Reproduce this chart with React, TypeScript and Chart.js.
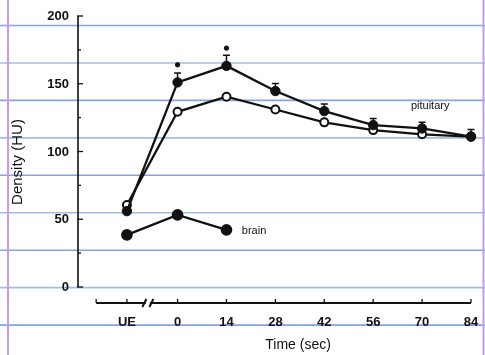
import React, { useEffect, useRef } from "react";
import { Chart, registerables } from "chart.js";

Chart.register(...registerables);

// ---- data ----
const xTickLabels = ["UE", "0", "14", "28", "42", "56", "70", "84"];
const xTickValues = [-14.5, 0, 14, 28, 42, 56, 70, 84];
const pituitaryFilled = [56, 151, 163.2, 144.6, 129.8, 119.5, 117, 111];
const pituitaryFilledUpper = [null, 158, 171, 150.2, 135, 124.4, 121.5, 116.3];
const pituitaryOpen = [60.5, 129.3, 140.4, 131, 121.5, 115.8, 112.7, 111];
const brainX = [-14.5, 0, 14];
const brainValues = [38.5, 53.2, 42.2];
const sigX = [0, 14];
const sigValues = [164, 176.3];
const yTickValues = [0, 50, 100, 150, 200];
const yMinorValues = [25, 75, 125, 175];
const seriesLabels = [
  { text: "pituitary", x: 66.8, y: 133.5 },
  { text: "brain", x: 18.4, y: 41 },
];
const xTitle = "Time (sec)";
const yTitle = "Density (HU)";

const FONT = "'Liberation Sans', Arial, Helvetica, sans-serif";
const INK = "#111111";

const pts = (xs: number[], ys: number[]) => xs.map((x, i) => ({ x, y: ys[i] }));

const paperPlugin = {
  id: "paper",
  beforeDraw(chart: any) {
    const ctx = chart.ctx;
    const W = chart.width;
    const H = chart.height;
    ctx.save();
    ctx.fillStyle = "#ffffff";
    ctx.fillRect(0, 0, W, H);
    // ruled notebook lines
    for (let k = 0; k < 9; k++) {
      const y = 25.5 + k * 37.45;
      ctx.strokeStyle = k % 2 === 0 ? "#85a3dc" : "#a3bde2";
      ctx.lineWidth = 1.6;
      ctx.beginPath();
      ctx.moveTo(0, y);
      ctx.lineTo(W, y);
      ctx.stroke();
    }
    ctx.strokeStyle = "#c49af2";
    ctx.lineWidth = 2;
    ctx.beginPath();
    ctx.moveTo(8, 0);
    ctx.lineTo(8, H);
    ctx.moveTo(483.5, 0);
    ctx.lineTo(483.5, H);
    ctx.stroke();
    ctx.restore();
  },
  beforeDatasetsDraw(chart: any) {
    const ctx = chart.ctx;
    const xs = chart.scales.x;
    const ys = chart.scales.y;
    ctx.save();
    ctx.strokeStyle = INK;
    ctx.fillStyle = INK;
    // y axis
    const yAxisX = xs.left;
    ctx.lineWidth = 1.6;
    ctx.beginPath();
    ctx.moveTo(yAxisX, ys.getPixelForValue(0));
    ctx.lineTo(yAxisX, ys.getPixelForValue(200));
    ctx.stroke();
    ctx.lineWidth = 1.3;
    yTickValues.forEach((v) => {
      const y = ys.getPixelForValue(v);
      ctx.beginPath();
      ctx.moveTo(yAxisX - 1, y);
      ctx.lineTo(yAxisX + 5, y);
      ctx.stroke();
    });
    yMinorValues.forEach((v) => {
      const y = ys.getPixelForValue(v);
      ctx.beginPath();
      ctx.moveTo(yAxisX, y);
      ctx.lineTo(yAxisX + 3, y);
      ctx.stroke();
    });
    ctx.font = `bold 13px ${FONT}`;
    ctx.textAlign = "right";
    ctx.textBaseline = "middle";
    yTickValues.forEach((v) => {
      ctx.fillText(String(v), yAxisX - 9, ys.getPixelForValue(v) + 0.5);
    });
    // x axis (separate, below plot)
    const axY = ys.getPixelForValue(0) + 16;
    const xStart = xs.getPixelForValue(-23.3);
    const xEnd = xs.getPixelForValue(84);
    ctx.lineWidth = 1.8;
    ctx.beginPath();
    ctx.moveTo(xStart, axY);
    ctx.lineTo(xEnd, axY);
    ctx.stroke();
    ctx.lineWidth = 1.3;
    [-23.3, ...xTickValues].forEach((v) => {
      const x = xs.getPixelForValue(v);
      ctx.beginPath();
      ctx.moveTo(x, axY);
      ctx.lineTo(x, axY - 4);
      ctx.stroke();
    });
    // axis break
    const bx = xs.getPixelForValue(-8.5);
    ctx.fillStyle = "#ffffff";
    ctx.fillRect(bx - 2, axY - 2, 4, 4);
    ctx.lineWidth = 2;
    ctx.beginPath();
    ctx.moveTo(bx - 5.5, axY + 4);
    ctx.lineTo(bx - 1.5, axY - 4);
    ctx.moveTo(bx + 1.5, axY + 4);
    ctx.lineTo(bx + 5.5, axY - 4);
    ctx.stroke();
    ctx.fillStyle = INK;
    ctx.font = `bold 13px ${FONT}`;
    ctx.textAlign = "center";
    ctx.textBaseline = "middle";
    xTickValues.forEach((v, i) => {
      ctx.fillText(xTickLabels[i], xs.getPixelForValue(v), axY + 19);
    });
    // titles
    ctx.font = `14px ${FONT}`;
    ctx.fillText(xTitle, xs.getPixelForValue(34.5), axY + 42);
    ctx.save();
    ctx.translate(18, 162);
    ctx.rotate(-Math.PI / 2);
    ctx.font = `15px ${FONT}`;
    ctx.fillText(yTitle, 0, 0);
    ctx.restore();
    // error bars
    ctx.lineWidth = 1.5;
    pituitaryFilledUpper.forEach((u, i) => {
      if (u == null) return;
      const x = xs.getPixelForValue(xTickValues[i]);
      const y0 = ys.getPixelForValue(pituitaryFilled[i]);
      const y1 = ys.getPixelForValue(u);
      ctx.beginPath();
      ctx.moveTo(x, y0);
      ctx.lineTo(x, y1);
      ctx.moveTo(x - 3.5, y1);
      ctx.lineTo(x + 3.5, y1);
      ctx.stroke();
    });
    ctx.restore();
  },
  afterDatasetsDraw(chart: any) {
    const ctx = chart.ctx;
    const xs = chart.scales.x;
    const ys = chart.scales.y;
    ctx.save();
    ctx.fillStyle = INK;
    ctx.font = `11px ${FONT}`;
    ctx.textAlign = "left";
    ctx.textBaseline = "middle";
    seriesLabels.forEach((l) => {
      ctx.fillText(l.text, xs.getPixelForValue(l.x), ys.getPixelForValue(l.y));
    });
    ctx.restore();
  },
};

export default function App() {
  const ref = useRef<HTMLCanvasElement | null>(null);
  useEffect(() => {
    if (!ref.current) return;
    const chart = new Chart(ref.current, {
      type: "line",
      data: {
        datasets: [
          {
            label: "pituitary (filled)",
            data: pts(xTickValues, pituitaryFilled),
            borderColor: INK,
            backgroundColor: INK,
            borderWidth: 2.3,
            pointRadius: 4.7,
            pointBorderWidth: 1,
            pointBackgroundColor: INK,
            pointBorderColor: INK,
            tension: 0,
            clip: false as any,
          },
          {
            label: "pituitary (open)",
            data: pts(xTickValues, pituitaryOpen),
            borderColor: INK,
            backgroundColor: "#ffffff",
            borderWidth: 2.3,
            pointRadius: 4,
            pointBorderWidth: 2,
            pointBackgroundColor: "#ffffff",
            pointBorderColor: INK,
            tension: 0,
            clip: false as any,
          },
          {
            label: "brain",
            data: pts(brainX, brainValues),
            borderColor: INK,
            backgroundColor: INK,
            borderWidth: 2.3,
            pointRadius: 4.7,
            pointBackgroundColor: INK,
            pointBorderColor: INK,
            tension: 0,
            clip: false as any,
          },
          {
            label: "significance",
            data: pts(sigX, sigValues),
            showLine: false,
            borderColor: INK,
            backgroundColor: INK,
            pointRadius: 2.2,
            pointBackgroundColor: INK,
            pointBorderColor: INK,
            clip: false as any,
          },
        ],
      },
      options: {
        responsive: false,
        animation: false,
        devicePixelRatio: 1,
        layout: { padding: { left: 78, right: 3.5, top: 16, bottom: 68 } },
        plugins: { legend: { display: false }, tooltip: { enabled: false } },
        scales: {
          x: { type: "linear", min: -28.5, max: 86, display: false },
          y: { type: "linear", min: 0, max: 200, display: false },
        },
      },
      plugins: [paperPlugin],
    });
    return () => chart.destroy();
  }, []);
  return (
    <div style={{ position: "fixed", left: 0, top: 0, width: 485, height: 355 }}>
      <canvas ref={ref} width={485} height={355} />
    </div>
  );
}
